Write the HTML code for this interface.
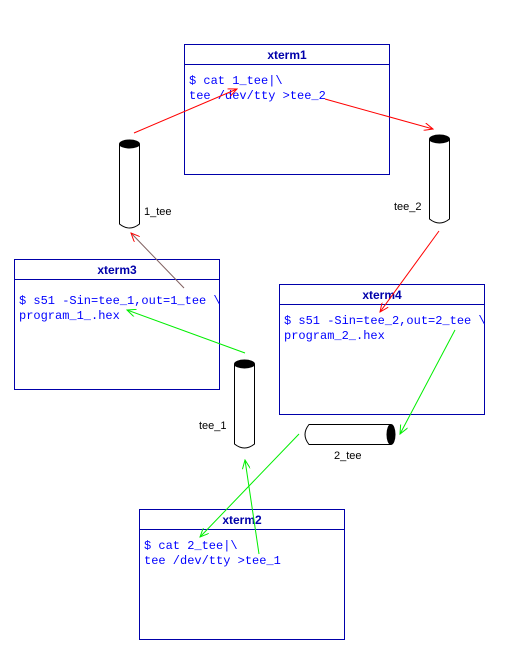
<!DOCTYPE html>
<html><head><style>body{margin:0;background:#fff}</style></head><body>
<svg width="520" height="654" xmlns="http://www.w3.org/2000/svg" style="display:block">
<defs>
<marker id="ar" markerWidth="10" markerHeight="8" refX="9" refY="4" orient="auto" markerUnits="userSpaceOnUse"><path d="M0,0 L9,4 L0,8" fill="none" stroke="red" stroke-width="1"/></marker>
<marker id="ag" markerWidth="10" markerHeight="8" refX="9" refY="4" orient="auto" markerUnits="userSpaceOnUse"><path d="M0,0 L9,4 L0,8" fill="none" stroke="#00ee00" stroke-width="1"/></marker>
</defs>
<g fill="#fff" stroke="#0000aa" stroke-width="1">
<rect x="184.5" y="44.5" width="205" height="130"/><line x1="184" y1="64.5" x2="389" y2="64.5"/>
<rect x="14.5" y="259.5" width="205" height="130"/><line x1="14" y1="279.5" x2="219" y2="279.5"/>
<rect x="279.5" y="284.5" width="205" height="130"/><line x1="279" y1="304.5" x2="484" y2="304.5"/>
<rect x="139.5" y="509.5" width="205" height="130"/><line x1="139" y1="529.5" x2="344" y2="529.5"/>
</g>
<g font-family="Liberation Sans, sans-serif" font-weight="bold" font-size="12" fill="#0000aa" text-anchor="middle">
<text x="287" y="59">xterm1</text><text x="117" y="274">xterm3</text><text x="382" y="299">xterm4</text><text x="242" y="524">xterm2</text>
</g>
<g font-family="Liberation Mono, monospace" font-size="12" fill="#0000ff">
<text x="189" y="84">$ cat 1_tee|\</text><text x="189" y="99">tee /dev/tty &gt;tee_2</text>
<text x="19" y="304">$ s51 -Sin=tee_1,out=1_tee \</text><text x="19" y="319">program_1_.hex</text>
<text x="284" y="324">$ s51 -Sin=tee_2,out=2_tee \</text><text x="284" y="339">program_2_.hex</text>
<text x="144" y="549">$ cat 2_tee|\</text><text x="144" y="564">tee /dev/tty &gt;tee_1</text>
</g>
<g fill="#fff" stroke="#000" stroke-width="1">
<path d="M119.5,144 V224 Q129.5,232 139.5,224 V144"/><ellipse cx="129.5" cy="144" rx="10" ry="4" fill="#000"/>
<path d="M429.5,139 V219 Q439.5,227 449.5,219 V139"/><ellipse cx="439.5" cy="139" rx="10" ry="4" fill="#000"/>
<path d="M234.5,364 V444 Q244.5,452 254.5,444 V364"/><ellipse cx="244.5" cy="364" rx="10" ry="4" fill="#000"/>
<path d="M391,424.5 H309 Q301,434.5 309,444.5 H391"/><ellipse cx="391" cy="434.5" rx="4" ry="10" fill="#000"/>
</g>
<g font-family="Liberation Sans, sans-serif" font-size="11" fill="#000">
<text x="144" y="215">1_tee</text><text x="394" y="210">tee_2</text><text x="199" y="429">tee_1</text><text x="334" y="459">2_tee</text>
</g>
<g fill="none" stroke-width="1">
<line x1="134" y1="133" x2="237" y2="89" stroke="red" marker-end="url(#ar)"/>
<line x1="325" y1="99" x2="433" y2="129" stroke="red" marker-end="url(#ar)"/>
<line x1="439" y1="231" x2="380" y2="312" stroke="red" marker-end="url(#ar)"/>
<line x1="184" y1="288" x2="131" y2="233" stroke="#806060" marker-end="url(#ar)"/>
<line x1="245" y1="353" x2="127" y2="310" stroke="#00ee00" marker-end="url(#ag)"/>
<line x1="455" y1="330" x2="400" y2="434" stroke="#00ee00" marker-end="url(#ag)"/>
<line x1="299" y1="434" x2="200" y2="537" stroke="#00ee00" marker-end="url(#ag)"/>
<line x1="259" y1="554" x2="245" y2="460" stroke="#00ee00" marker-end="url(#ag)"/>
</g>
</svg>
</body></html>
